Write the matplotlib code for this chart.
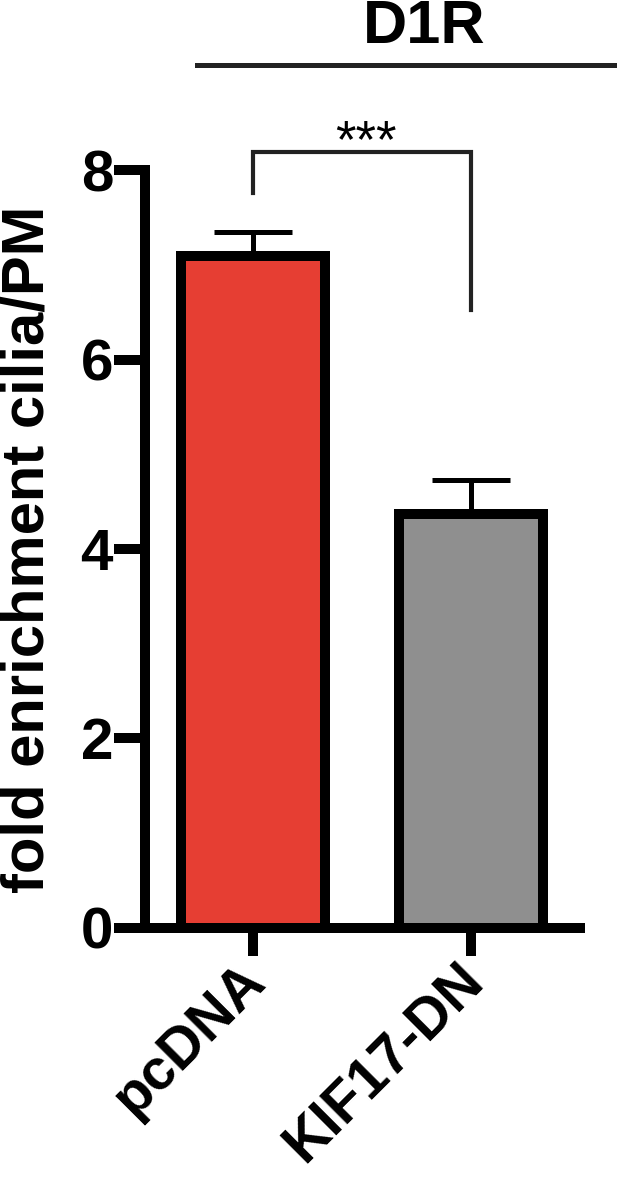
import matplotlib
matplotlib.use("Agg")
import matplotlib.pyplot as plt
from matplotlib.lines import Line2D
from matplotlib.transforms import ScaledTranslation

# data
groups = ["pcDNA", "KIF17-DN"]
means = [7.09, 4.37]
sem = [0.26, 0.36]
bar_colors = ["#E63E33", "#8F8F8F"]
yticks = [0, 2, 4, 6, 8]
title = "D1R"
ylabel = "fold enrichment cilia/PM"
signif = "***"
bracket_y = 8.19
bracket_ends = [7.76, 6.52]

plt.rcParams["font.family"] = ["Liberation Sans", "DejaVu Sans"]
plt.rcParams["font.weight"] = "bold"

fig = plt.figure(figsize=(6.17, 11.79), dpi=100)
ax = fig.add_axes([0.235, 0.2129, 0.705, 0.6429])

x = list(range(len(groups)))
ax.bar(x, means, width=0.66, color=bar_colors, edgecolor="black", linewidth=7.2, zorder=3)
ax.errorbar(x, means, yerr=[[0, 0], sem], fmt="none", ecolor="black",
            elinewidth=3.6, capsize=28, capthick=3.6, zorder=2)

# significance bracket
ax.plot([x[0], x[0], x[1], x[1]], [bracket_ends[0], bracket_y, bracket_y, bracket_ends[1]],
        color="#222222", lw=3, clip_on=False, solid_joinstyle="miter")
ax.text(0.52, 8.14, signif, ha="center", va="baseline", fontsize=38,
        fontweight="normal", clip_on=False)

ax.set_xlim(-0.495, 1.5)
ax.set_ylim(0, 8)
ax.set_yticks(yticks)
ax.set_yticklabels([str(t) for t in yticks], fontsize=42, fontweight="bold")
ax.set_xticks(x)
ax.set_xticklabels(groups, rotation=45, ha="right", va="top", rotation_mode="anchor",
                   fontsize=41, fontweight="bold")
ax.tick_params(axis="y", length=22, width=7.2, pad=1)
ax.tick_params(axis="x", length=20, width=7.2, pad=8)
# nudge rotated labels so they hang under the ticks like the original
shift = ScaledTranslation(-11 / 72, 10 / 72, fig.dpi_scale_trans)
for lab in ax.get_xticklabels():
    lab.set_transform(lab.get_transform() + shift)
ax.set_ylabel(ylabel, fontsize=43, fontweight="bold")
ax.yaxis.set_label_coords(-0.205, 0.5)

for s in ["top", "right"]:
    ax.spines[s].set_visible(False)
for s in ["left", "bottom"]:
    ax.spines[s].set_linewidth(7.2)
    ax.spines[s].set_capstyle("projecting")

# group header
fig.text(424 / 617, 1 - 43 / 1179, title, ha="center", va="baseline", fontsize=44, fontweight="bold")
fig.add_artist(Line2D([197 / 617, 1.0], [1 - 65 / 1179, 1 - 65 / 1179], color="#222222", lw=3.6,
                      transform=fig.transFigure))

fig.savefig("out.png", dpi=100)
